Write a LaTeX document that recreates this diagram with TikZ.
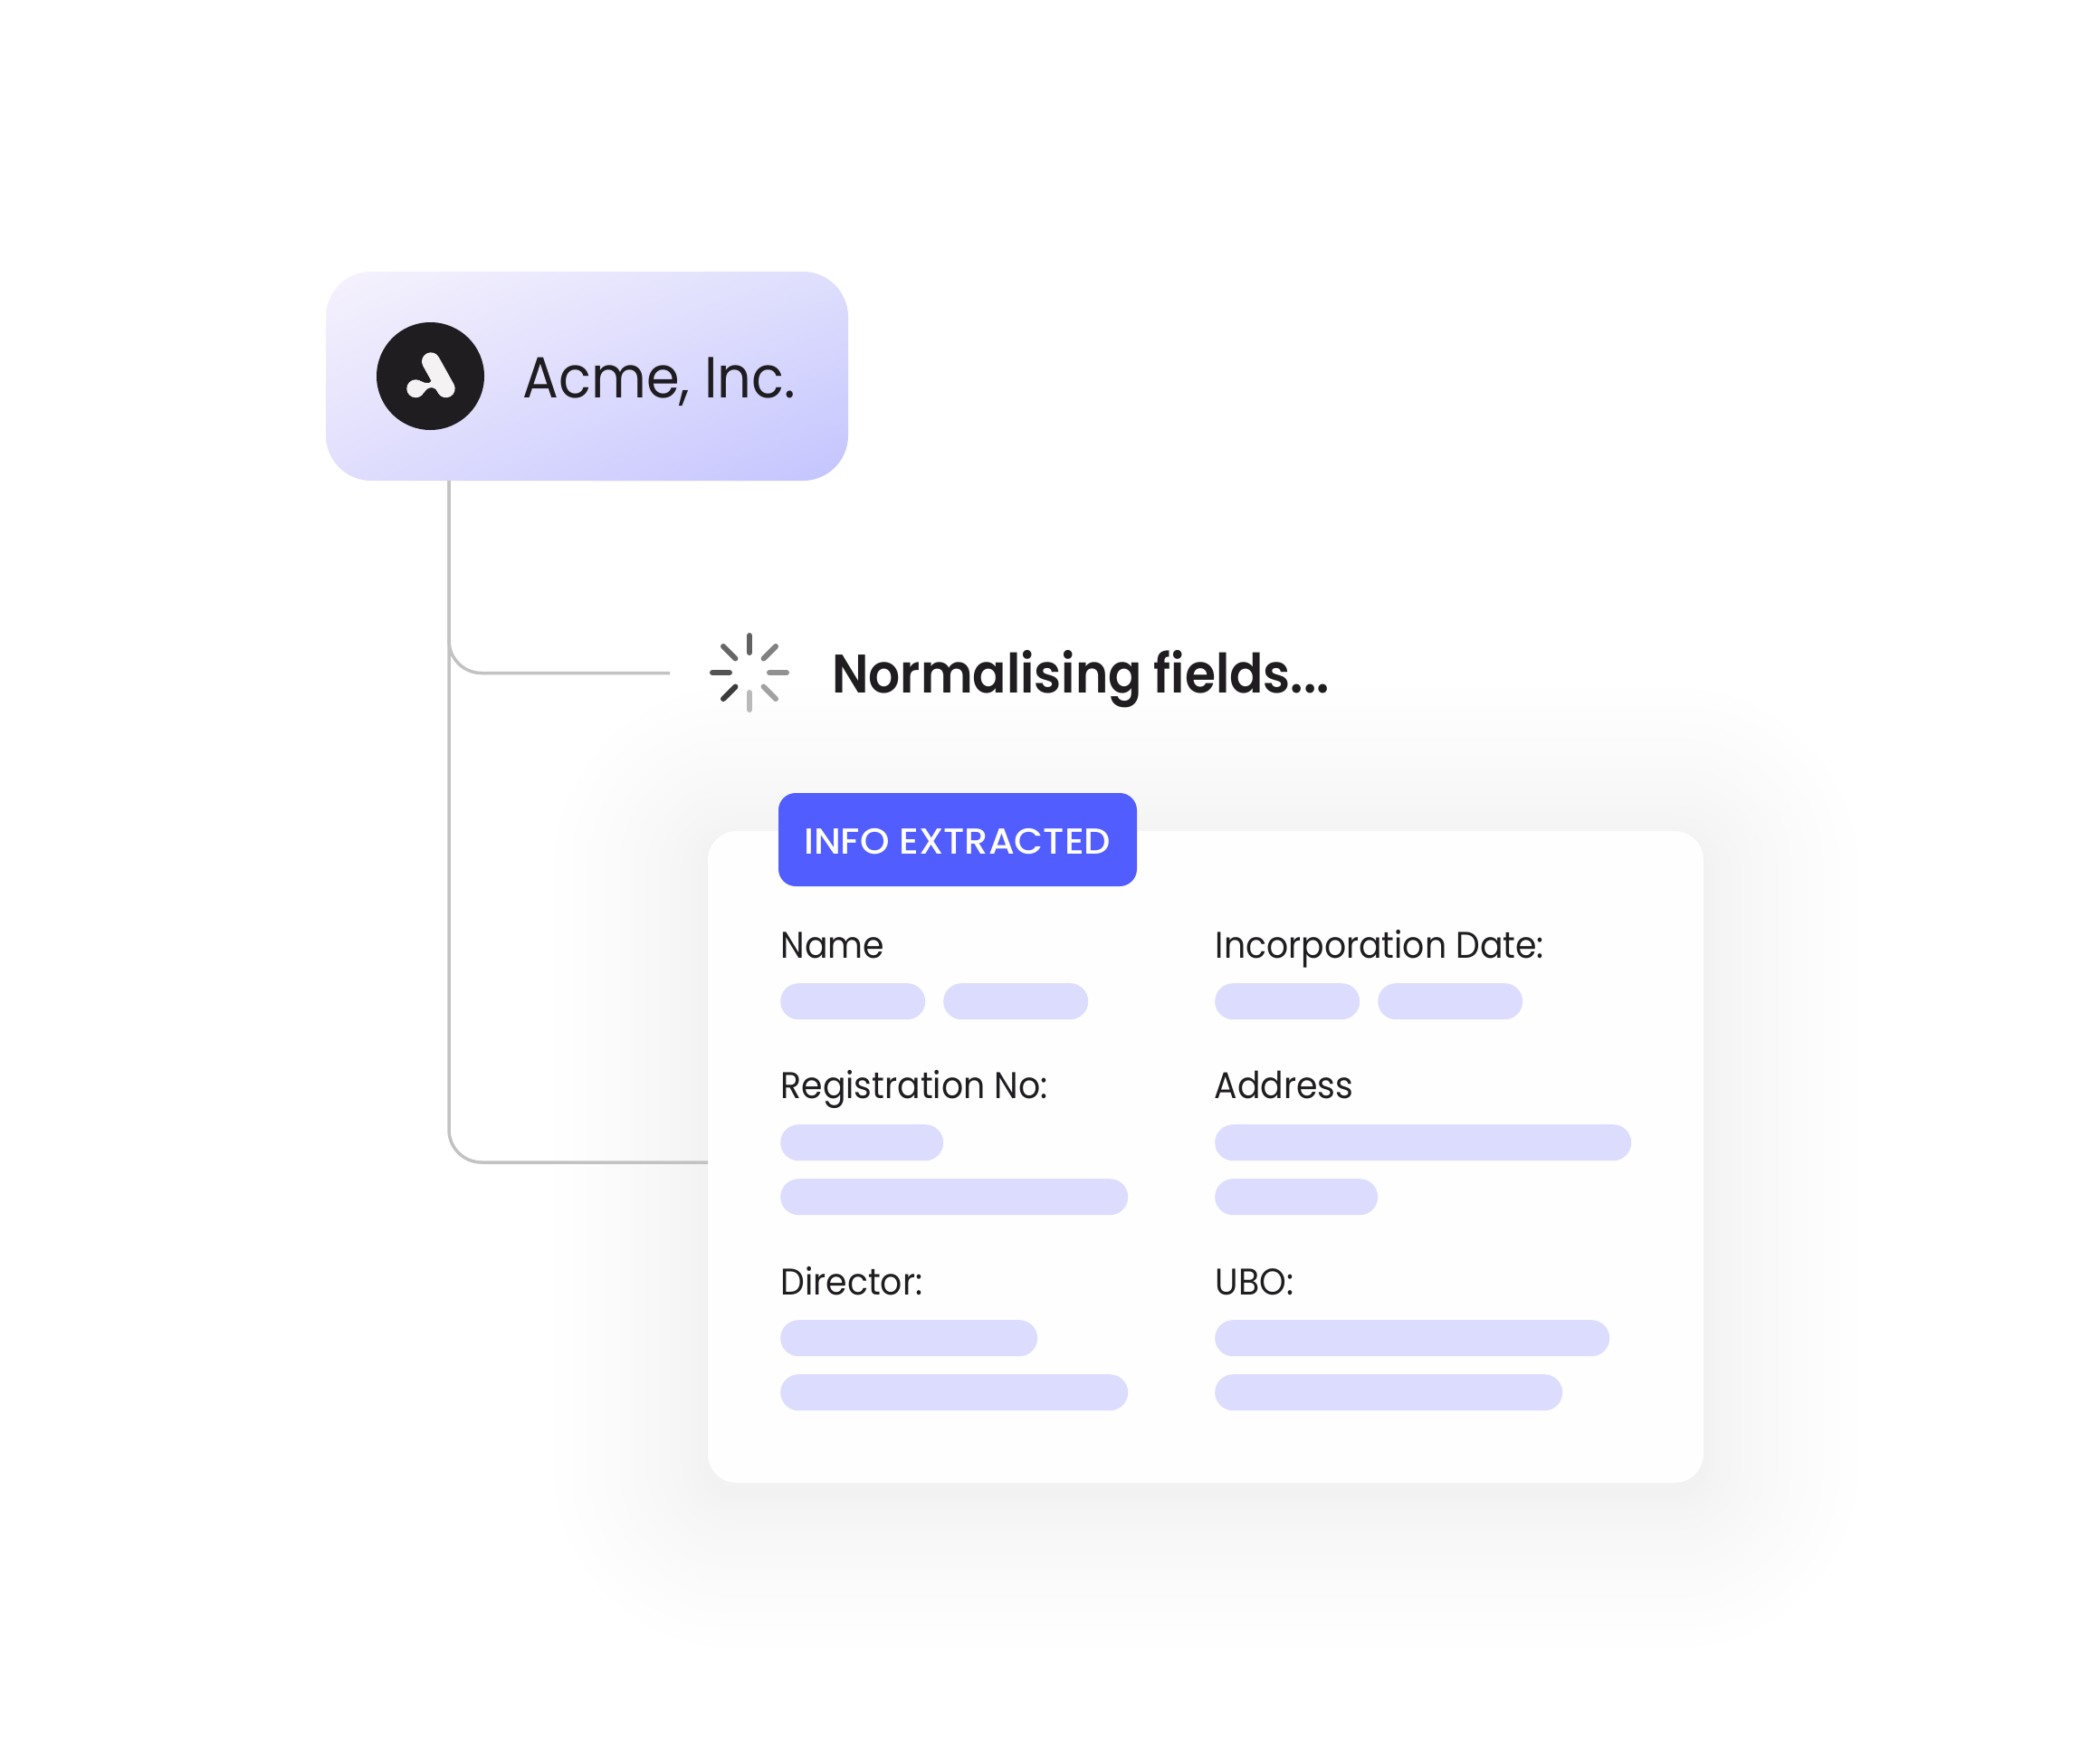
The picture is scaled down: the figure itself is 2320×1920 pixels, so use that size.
\documentclass[tikz,border=0pt]{standalone}
\usepackage{fontspec}
\setmainfont[FakeStretch=0.922]{Poppins}
\newfontfamily\headfont[FakeStretch=0.918]{Poppins SemiBold}
\newfontfamily\tagfont[FakeStretch=1.035]{Poppins Medium}
\usetikzlibrary{positioning,calc,shadings}

\definecolor{inkdark}{HTML}{1F1D20}
\definecolor{wiregray}{HTML}{C2C2C2}
\definecolor{pillblue}{HTML}{DCDCFF}
\definecolor{tagblue}{HTML}{515DFF}
\definecolor{boxtl}{HTML}{F6F2FD}
\definecolor{boxtr}{HTML}{DEDEFD}
\definecolor{boxbl}{HTML}{E0DEFD}
\definecolor{boxbr}{HTML}{C4C4FF}
\definecolor{logowhite}{HTML}{F5F2F4}
\definecolor{cardwhite}{HTML}{FEFEFE}

\tikzset{
  wire/.style={draw=wiregray, line width=3.5pt},
  pill/.style={fill=pillblue, rounded corners=20pt, minimum height=40pt, inner sep=0pt, anchor=north west},
  fieldlabel/.style={anchor=base west, inner sep=0pt, text=inkdark, font=\fontsize{41}{48}\selectfont},
  spoke/.style={line width=6pt, line cap=round},
}

\begin{document}
\begin{tikzpicture}[x=1pt, y=-1pt]
\useasboundingbox (0,0) rectangle (2320,1920);

% card shadow
\foreach \lvl in {1,...,13} {
  \pgfmathsetmacro{\spread}{190*(1-\lvl/14)^1.5}
  \pgfmathsetmacro{\shadepct}{\lvl*0.392}
  \fill[black!\shadepct, rounded corners=30+\spread]
    (782-\spread,930-\spread) rectangle (1882+\spread,1650+\spread);
}

% company box
\node[upper left=boxtl, upper right=boxtr, lower left=boxbl, lower right=boxbr,
  rounded corners=50pt, minimum width=577pt, minimum height=231pt,
  inner sep=0pt] (acme) at (648.5,415.5) {};
\node[circle, fill=inkdark, minimum size=119pt, inner sep=0pt] (logo) at (475.5,415.5) {};
\draw[logowhite, line width=20pt, line cap=round] (476,399.3) -- (492.7,429.3);
\fill[logowhite] (459.3,429.3) circle (10);
\fill[logowhite] (465,421) .. controls (469,423) and (472,423.5) .. (474,423) -- (480,418) -- (485,434)
  .. controls (481,429) and (479,428) .. (476.7,428) .. controls (474,428) and (472,429) .. (468,434) -- cycle;
\node[anchor=base west, inner sep=0pt, text=inkdark, font=\fontsize{64}{70}\selectfont] (acmename) at (577.5,439) {Acme, Inc.};

% card
\node[fill=cardwhite, rounded corners=32pt, minimum width=1100pt, minimum height=720pt, inner sep=0pt] (card) at (1332,1278) {};
\node[fill=tagblue, rounded corners=19pt, minimum width=396pt, minimum height=103pt, inner sep=0pt] (tag) at (1058,927.5) {};
\node[anchor=base west, inner sep=0pt, text=white, font=\tagfont\fontsize{40}{48}\selectfont] (tagtext) at (888,943.3) {INFO EXTRACTED};

% connectors
\coordinate (trunk) at (496,531);
\coordinate (stub) at (740,743.5);
\coordinate (cardin) at (782,1284);
\draw[wire, rounded corners=36pt] (trunk) |- (stub);
\draw[wire, rounded corners=36pt] (trunk) |- (cardin);

% spinner
\coordinate (spin) at (828,743);
\foreach \ang/\shd in {90/27, 45/37, 0/43, -45/50, -90/62, -135/60, 180/67, 135/77} {
  \draw[spoke, black!\shd!white] ($(spin)+(\ang:22)$) -- ($(spin)+(\ang:41)$);
}
\node[anchor=base west, inner sep=0pt, text=inkdark, font=\headfont\fontsize{60}{66}\selectfont] (status) at (919,765) {Normalising fields...};

% left fields
\node[fieldlabel] (name) at (862.5,1058) {Name};
\node[pill, minimum width=160pt] (name1) at (862,1086) {};
\node[pill, minimum width=160pt] (name2) at (1042,1086) {};
\node[fieldlabel] (reg) at (862.5,1213) {Registration No:};
\node[pill, minimum width=180pt] (reg1) at (862,1242) {};
\node[pill, minimum width=384pt] (reg2) at (862,1302) {};
\node[fieldlabel] (dir) at (862.5,1430) {Director:};
\node[pill, minimum width=284pt] (dir1) at (862,1458) {};
\node[pill, minimum width=384pt] (dir2) at (862,1518) {};

% right fields
\node[fieldlabel] (date) at (1342.5,1058) {Incorporation Date:};
\node[pill, minimum width=160pt] (date1) at (1342,1086) {};
\node[pill, minimum width=160pt] (date2) at (1522,1086) {};
\node[fieldlabel] (addr) at (1341.5,1213) {Address};
\node[pill, minimum width=460pt] (addr1) at (1342,1242) {};
\node[pill, minimum width=180pt] (addr2) at (1342,1302) {};
\node[fieldlabel] (ubo) at (1342.5,1430) {UBO:};
\node[pill, minimum width=436pt] (ubo1) at (1342,1458) {};
\node[pill, minimum width=384pt] (ubo2) at (1342,1518) {};

\end{tikzpicture}
\end{document}
